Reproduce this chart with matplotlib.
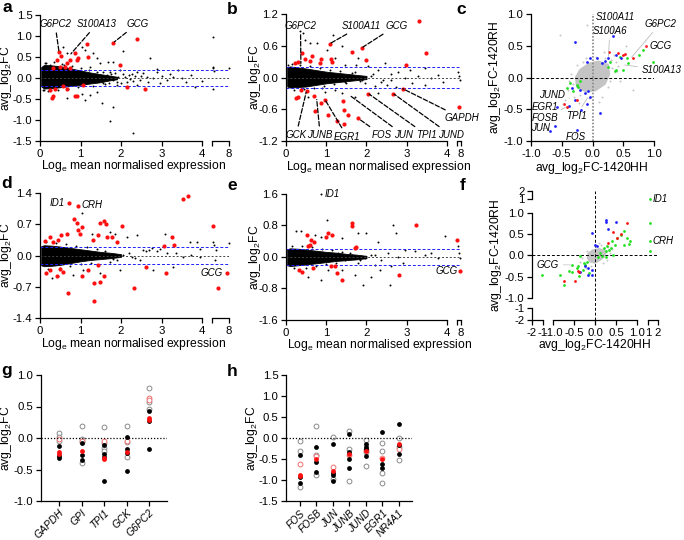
import numpy as np
import matplotlib.pyplot as plt

plt.rcParams['font.family'] = ['Liberation Sans', 'DejaVu Sans']
plt.rcParams['mathtext.fontset'] = 'custom'
plt.rcParams['mathtext.rm'] = 'Liberation Sans'
plt.rcParams['mathtext.it'] = 'Liberation Sans:italic'
plt.rcParams['axes.unicode_minus'] = False
plt.rcParams['font.size'] = 8.2
plt.rcParams['axes.labelsize'] = 8.7
plt.rcParams['axes.linewidth'] = 0.9
plt.rcParams['xtick.major.width'] = 0.9
plt.rcParams['ytick.major.width'] = 0.9
plt.rcParams['xtick.major.size'] = 3.5
plt.rcParams['ytick.major.size'] = 3.5
plt.rcParams['xtick.major.pad'] = 2
plt.rcParams['ytick.major.pad'] = 2

W, H = 684, 540
GENE_FS = 7.0

# ---------------- panel a ----------------
a_core_x = [0.03, 0.1, 0.3, 0.5, 0.75, 1.0, 1.25, 1.5, 1.7, 1.9]
a_core_hi = [0.26, 0.31, 0.3, 0.28, 0.23, 0.18, 0.13, 0.09, 0.06, 0.03]
a_core_lo = [-0.2, -0.25, -0.24, -0.22, -0.19, -0.16, -0.13, -0.1, -0.06, -0.03]
a_blk_x = [4.4, 4.5, 4.6, 4.45, 7.9, 4.5, 2.06, 1.81, 1.73, 2.30, 2.72, 1.52, 1.40, 1.48, 1.23,
           1.69, 1.98, 1.89, 2.14, 2.26, 2.39, 2.47, 2.63, 2.80, 2.88, 3.0, 3.13, 3.29, 3.41,
           3.5, 3.74, 3.99, 3.83, 1.81, 1.65, 1.56, 1.73, 1.93, 2.1, 2.22, 2.35, 2.55, 2.67,
           2.96, 3.21, 1.32, 1.11, 1.03, 0.66, 0.58, 0.25, 0.12, 1.23, 1.40, 1.11, 0.08, 0.66,
           1.81, 1.03, 2.0, 2.4, 2.9, 3.6,
           0.15, 0.35, 0.55, 0.8, 1.0, 1.2, 1.4, 0.2, 0.45, 0.7, 0.95, 1.3, 1.6, 1.75, 1.9,
           2.2, 0.1, 0.6, 1.55, 1.7, 2.05, 2.3, 2.5, 1.85]
a_blk_y = [0.98, 0.23, 0.17, 0.27, 0.23, -0.27, 0.65, -0.68, -1.02, -1.30, 0.47, -0.60, 0.47,
           0.35, 0.27, 0.39, 0.19, -0.17, -0.09, 0.10, 0.15, -0.05, 0.03, -0.01, 0.15, 0.05,
           -0.05, 0.03, 0.19, -0.01, 0.07, -0.06, -0.21, -0.05, 0.07, -0.11, 0.15, 0.03, 0.02,
           -0.03, 0.05, 0.11, -0.09, -0.11, 0.10, 0.59, 0.67, 0.75, 0.59, 0.75, 0.31, 0.35,
           -0.40, -0.33, -0.52, -0.29, -0.48, 0.37, -0.37, -0.12, -0.16, 0.22, -0.1,
           0.36, 0.38, 0.34, 0.29, 0.24, 0.19, 0.15, -0.3, -0.29, -0.26, -0.22, -0.18, -0.14,
           0.1, -0.09, 0.07, -0.29, 0.32, 0.14, -0.13, 0.09, -0.08, 0.04, 0.12]
a_red_x = [1.17, 1.81, 2.40, 0.86, 0.93, 0.91, 1.19, 0.74, 0.66, 0.62, 0.49, 0.33, 1.98, 2.60,
           2.14, 0.33, 0.29, 0.37, 0.66, 0.86, 0.92, 0.25, 1.07, 0.58, 0.41, 0.74, 0.47, 0.53]
a_red_y = [0.80, 0.84, 0.94, 0.59, 0.47, 0.43, 0.51, 0.44, 0.35, 0.27, 0.27, 0.23, 0.30, -0.27,
           -0.21, -0.44, -0.48, -0.27, -0.27, -0.43, -0.44, -0.29, -0.17, -0.2, 0.44, 0.23,
           0.62, 0.52]
a_labels = ['G6PC2', 'S100A13', 'GCG']
a_lab_xy = [(0.37, 1.29), (1.41, 1.29), (2.40, 1.29)]
a_lab_pt = [(0.47, 0.62), (0.74, 0.55), (1.81, 0.84)]

# ---------------- panel b ----------------
b_core_x = [0.03, 0.1, 0.3, 0.5, 0.75, 1.0, 1.25, 1.5, 1.75, 2.0]
b_core_hi = [0.19, 0.21, 0.19, 0.17, 0.14, 0.11, 0.09, 0.07, 0.05, 0.03]
b_core_lo = [-0.17, -0.19, -0.18, -0.17, -0.14, -0.11, -0.09, -0.07, -0.05, -0.03]
b_blk_x = [0.35, 0.43, 1.17, 0.6, 0.76, 1.01, 1.38, 1.79, 2.04, 2.29, 2.45, 2.79, 3.07, 3.45,
           3.61, 3.9, 3.78, 3.28, 2.95, 2.62, 2.37, 2.12, 1.88, 1.63, 1.46, 1.34, 1.71, 1.96,
           2.21, 2.5, 2.74, 3.12, 3.45, 1.21, 1.38, 1.71, 0.97, 0.55, 6.0, 5.0, 7.0, 0.47,
           1.46, 1.75, 1.21, 2.29, 2.62,
           0.15, 0.35, 0.6, 0.85, 1.1, 1.35, 0.2, 0.45, 0.7, 0.95, 1.2, 1.5, 1.65, 1.85, 2.15,
           2.4, 0.05, 0.9]
b_blk_y = [0.87, 0.84, 0.81, 0.65, 0.65, 0.52, 0.59, 0.37, 0.21, 0.15, 0.27, 0.11, 0.15, 0.18,
           -0.01, -0.08, 0.05, 0.02, -0.01, -0.04, -0.08, 0.03, -0.04, 0.01, -0.08, 0.05, 0.11,
           -0.11, -0.17, -0.14, -0.18, -0.11, -0.14, -0.23, -0.3, -0.36, -0.27, -0.36, 0.02,
           0.11, -0.04, 0.71, 0.24, 0.24, 0.37, -0.3, 0.07,
           0.25, 0.24, 0.21, 0.18, 0.15, 0.12, -0.23, -0.22, -0.19, -0.16, -0.13, -0.1, 0.09,
           -0.07, 0.06, -0.05, 0.24, -0.19]
b_red_x = [3.31, 1.88, 1.65, 1.09, 3.49, 2.0, 2.99, 0.39, 0.22, 0.31, 0.47, 0.60, 0.64, 0.87,
           0.84, 1.13, 1.15, 0.37, 0.26, 0.31, 0.51, 0.70, 0.97, 0.88, 0.72, 1.05, 1.27, 1.42,
           1.45, 1.55, 1.44, 1.79, 2.04, 2.66, 2.91, 6.5]
b_red_y = [1.06, 0.56, 0.49, 0.64, 0.46, 0.33, 0.24, 0.46, 0.27, 0.30, 0.35, 0.32, 0.40, 0.35,
           0.27, 0.35, 0.30, -0.23, -0.39, -0.36, -0.25, -0.35, -0.42, -0.49, -0.64, -0.71,
           -0.83, -0.45, -0.61, -0.71, -0.88, -0.77, -0.31, -0.31, -0.22, -0.55]
b_labels = ['G6PC2', 'S100A11', 'GCG', 'GCK', 'JUNB', 'EGR1', 'FOS', 'JUN', 'TPI1', 'JUND', 'GAPDH']
b_lab_xy = [(0.36, 0.98), (1.88, 0.98), (2.74, 0.98), (0.25, -1.09), (0.85, -1.09),
            (1.52, -1.12), (2.38, -1.09), (2.93, -1.09), (3.5, -1.09), (0.943, -1.09),
            (1.006, -0.77)]
b_lab_pt = [(0.37, 0.24), (1.09, 0.64), (1.88, 0.56), (0.51, -0.25), (0.76, -0.39),
            (0.97, -0.42), (1.79, -0.77), (1.57, -0.33), (2.04, -0.3), (2.66, -0.3),
            (2.87, -0.2)]
# the last two labels sit right of the axis, x given as axes fraction
b_lab_frac = [False] * 9 + [True, True]

# ---------------- panel c ----------------
c_core_x = [0.25, 0.1, -0.05, -0.2, -0.27, -0.25, -0.1, 0.05, 0.2, 0.27]
c_core_y = [0.2, 0.25, 0.22, 0.12, 0.0, -0.15, -0.22, -0.2, -0.1, 0.05]
c_grey_x = [-0.53, -0.09, 0.66, 0.35, -0.35, 0.3, 0.4, -0.4, -0.3, 0.2, -0.2, 0.45, -0.45,
            0.15, 0.25, -0.15, 0.05, -0.05, 0.32, -0.32, 0.38, 0.1, -0.25, 0.28, -0.1, 0.18,
            -0.38, 0.42, 0.22, -0.22, 0.55, -0.6]
c_grey_y = [0.67, 0.83, -0.19, 0.35, 0.05, 0.28, 0.1, -0.2, -0.3, 0.3, -0.28, -0.05, -0.35,
            -0.3, -0.15, 0.25, 0.33, -0.32, 0.15, -0.1, 0.25, -0.38, 0.2, -0.05, 0.3, 0.4,
            -0.05, 0.18, 0.1, -0.4, 0.5, -0.3]
c_blue_x = [-0.28, 0.34, -0.04, -0.09, 0.08, 0.15, 0.2, 0.26, 0.39, 0.47, -0.69, -0.61, -0.26,
            -0.58, -0.39, -0.2, -0.12, -0.07, -0.04, -0.18, -0.28, 0.12, -0.09, -0.34]
c_blue_y = [0.56, 0.65, 0.31, 0.25, 0.31, 0.23, 0.26, 0.31, 0.36, 0.31, -0.85, -0.77, -0.83,
            -0.46, -0.45, -0.19, -0.25, -0.22, -0.3, -0.51, -0.35, -0.56, -0.41, -0.17]
c_green_x = [0.82, 0.98, 0.75, 0.58, 0.50, 0.39, 0.26, 0.28, 0.45, 0.56, 0.37, -0.2, -0.25,
             -0.41, -0.23, -0.31, -0.37]
c_green_y = [0.44, 0.24, 0.36, 0.23, 0.12, 0.12, 0.17, 0.24, 0.33, 0.31, 0.11, -0.06, -0.12,
             -0.17, -0.15, -0.22, -0.09]
c_red_x = [0.87, 0.53, 0.42, 0.27, 0.50, 0.66, -0.47, -0.26, -0.42]
c_red_y = [0.49, 0.37, 0.38, 0.40, 0.35, 0.31, -0.42, -0.35, -0.46]
c_labels = ['S100A11', 'S100A6', 'G6PC2', 'GCG', 'S100A13', 'JUND', 'EGR1', 'FOSB', 'TPI1',
            'JUN', 'FOS']
c_lab_xy = [(0.37, 0.96), (0.28, 0.73), (1.1, 0.85), (1.1, 0.49), (1.12, 0.12),
            (-0.66, -0.28), (-0.77, -0.47), (-0.77, -0.64), (-0.26, -0.6), (-0.84, -0.8),
            (-0.28, -0.93)]
c_lab_pt = [(0.32, 0.66), (0.26, 0.31), (0.62, 0.3), (0.87, 0.49), (0.5, 0.2),
            (-0.35, -0.33), (-0.47, -0.42), (-0.42, -0.46), (-0.07, -0.3), (-0.69, -0.8),
            (-0.26, -0.83)]

# ---------------- panel d ----------------
d_core_x = [0.03, 0.1, 0.3, 0.5, 0.75, 1.0, 1.25, 1.5, 1.75, 2.0]
d_core_hi = [0.21, 0.23, 0.22, 0.2, 0.17, 0.14, 0.11, 0.08, 0.06, 0.03]
d_core_lo = [-0.22, -0.24, -0.23, -0.21, -0.17, -0.13, -0.1, -0.08, -0.06, -0.03]
d_blk_x = [1.03, 1.73, 1.85, 2.39, 3.09, 3.7, 3.87, 4.4, 4.6, 5.0, 7.9, 2.14, 1.28, 2.55, 2.76,
           2.88, 2.96, 3.13, 3.37, 3.54, 3.74, 3.95, 2.47, 2.26, 2.06, 1.89, 1.73, 1.56, 1.40,
           2.8, 3.29, 1.98, 1.48, 1.07, 0.82, 0.29, 0.45, 3.95, 4.8, 2.62, 2.7,
           0.15, 0.4, 0.65, 0.9, 1.15, 1.4, 0.2, 0.5, 0.75, 1.0, 1.25, 1.6, 1.8, 2.2, 2.35]
d_blk_y = [0.95, 0.53, 0.49, 0.46, 0.49, 0.31, 0.31, 0.31, 0.23, 0.12, 0.29, 0.42, 0.49, 0.12,
           0.16, 0.09, 0.14, 0.05, 0.05, -0.03, 0.01, -0.04, -0.1, -0.03, 0.01, -0.1, -0.14,
           -0.04, 0.05, -0.32, -0.25, -0.32, -0.40, -0.32, -0.43, -0.51, -0.47, 0.14, -0.1,
           0.1, 0.13,
           0.3, 0.29, 0.26, 0.22, 0.18, 0.14, -0.3, -0.28, -0.24, -0.2, -0.16, 0.1, -0.08,
           0.06, -0.05]
d_red_x = [0.72, 0.93, 3.52, 3.66, 4.5, 5.5, 7.6, 0.85, 0.91, 1.03, 0.99, 0.93, 1.48, 1.59,
           1.63, 2.02, 1.44, 1.65, 1.77, 1.91, 1.32, 3.05, 3.25, 3.32, 0.66, 0.53, 0.45, 0.25,
           0.12, 0.33, 0.70, 1.34, 1.34, 1.47, 1.59, 2.33, 3.10, 2.61, 1.19, 1.44, 0.25, 0.41,
           0.58, 1.03, 0.16, 0.49]
d_red_y = [1.18, 1.12, 1.27, 1.33, 0.66, -0.73, -0.4, 0.81, 0.72, 0.63, 0.49, 0.58, 0.73, 0.78,
           0.70, 0.66, 0.46, 0.42, 0.42, 0.31, 0.35, 0.22, 0.42, 0.23, 0.49, 0.46, 0.35, 0.42,
           0.32, 0.31, -0.84, -0.62, -1.03, -0.6, -0.47, -0.73, -0.40, -0.25, -0.32, -0.21,
           -0.32, -0.47, -0.36, -0.47, -0.4, -0.31]

# ---------------- panel e ----------------
e_core_x = [0.03, 0.1, 0.3, 0.5, 0.75, 1.0, 1.25, 1.5, 1.75, 2.0]
e_core_hi = [0.2, 0.22, 0.21, 0.19, 0.16, 0.13, 0.11, 0.08, 0.06, 0.03]
e_core_lo = [-0.21, -0.23, -0.21, -0.19, -0.16, -0.13, -0.1, -0.08, -0.06, -0.03]
e_blk_x = [0.88, 1.01, 0.25, 0.37, 1.79, 2.0, 2.66, 2.74, 3.94, 1.38, 0.88, 0.72, 2.29, 2.95,
           3.2, 3.45, 3.61, 3.78, 2.79, 2.54, 2.37, 2.12, 1.96, 1.79, 1.63, 1.46, 1.3, 2.21,
           2.62, 2.91, 0.88, 1.92, 2.58, 2.12, 2.33, 1.71, 0.55, 1.38, 1.05, 5.0, 6.0, 7.0,
           0.15, 0.4, 0.65, 0.9, 1.15, 1.4, 0.2, 0.5, 0.75, 1.0, 1.25, 1.6, 1.85, 2.2]
e_blk_y = [1.6, 0.95, 0.65, 0.67, 0.61, 0.61, 0.82, 0.61, 0.54, 0.48, 0.52, 0.56, 0.39, 0.18,
           0.14, 0.06, 0.1, -0.03, 0.0, 0.1, -0.07, 0.06, -0.03, -0.16, 0.06, -0.07, 0.1, -0.2,
           -0.24, -0.16, -0.58, -0.71, -0.71, -0.5, -0.33, -0.45, -0.5, -0.33, -0.33, 0.27,
           0.1, -0.03,
           0.29, 0.28, 0.25, 0.21, 0.17, 0.13, -0.29, -0.27, -0.23, -0.19, -0.15, 0.09, -0.07,
           0.05]
e_red_x = [1.63, 1.63, 3.22, 1.05, 1.15, 1.0, 0.51, 0.62, 0.7, 0.6, 0.55, 1.75, 1.71, 4.6,
           0.32, 0.39, 0.66, 1.12, 1.21, 1.26, 1.38, 2.80, 7.5]
e_red_y = [0.86, 0.78, 0.82, 0.62, 0.56, 0.52, 0.56, 0.44, 0.38, 0.31, 0.27, 0.25, 0.24, 0.44,
           -0.33, -0.37, -0.28, -0.24, -0.24, -0.41, -0.58, -0.45, -0.35]

# ---------------- panel f ----------------
f_core_x = [0.22, 0.1, -0.05, -0.15, -0.17, -0.12, 0.0, 0.12, 0.22, 0.25]
f_core_y = [0.12, 0.15, 0.12, 0.05, -0.06, -0.14, -0.17, -0.1, -0.02, 0.06]
f_grey_x = [-0.25, -0.2, 0.3, 0.28, -0.3, 0.15, -0.1, 0.35, -0.35, 0.05, 0.2, -0.22, 0.4, 0.1]
f_grey_y = [-0.2, 0.1, 0.2, -0.1, -0.05, 0.25, -0.25, 0.05, -0.15, 0.22, -0.18, -0.3, 0.15, 0.3]
f_green_x = [1.2, 1.2, 1.25, 1.18, -1.15, -0.84, -0.73, -0.63, -0.55, -0.44, -0.41, -0.35,
             -0.27, -0.23, -0.19, -0.29, -0.15, -0.39, -0.55, 0.13, 0.21, 0.29, 0.27, 0.33,
             0.37, 0.48, 0.41, 0.52, 0.68, 0.75, 0.80, 0.84, 0.70, 0.62, 0.44, 0.25, 0.17, 0.06]
f_green_y = [1.05, 0.76, 0.1, 0.33, -0.45, -0.45, -0.69, -0.36, -0.39, -0.29, -0.25, -0.02,
             -0.18, -0.22, -0.15, -0.33, -0.41, -0.49, -0.22, 0.06, 0.18, 0.22, 0.1, 0.14, 0.18,
             0.25, 0.33, 0.41, 0.57, 0.41, 0.27, 0.33, 0.25, 0.49, 0.02, -0.04, -0.02, -0.04]
f_blue_x = [0.27, 0.27, 0.51, 0.3, -0.07, 0.01, 0.05, -0.23, -0.17, -0.07, -0.07, -0.35, -0.17]
f_blue_y = [0.84, 0.79, 0.79, 0.62, 0.53, 0.24, 0.22, -0.25, -0.45, -0.45, -0.33, -0.39, -0.29]
f_red_x = [0.75, 0.43, 0.52, 0.62, 0.3, -0.75, -0.47, -0.41, -0.38]
f_red_y = [0.77, 0.55, 0.4, 0.51, 0.29, -0.61, -0.61, -0.36, -0.39]

# ---------------- panels g, h ----------------
g_genes = ['GAPDH', 'GPI', 'TPI1', 'GCK', 'G6PC2']
g_black = [[-0.12, -0.28, -0.31], [-0.08, -0.27, -0.35], [-0.11, -0.26, -0.30, -0.68],
           [0.02, -0.17, -0.24, -0.53], [0.43, 0.27, -0.17]]
g_red = [[-0.23, -0.26], [-0.21], [-0.32, -0.33], [-0.23], [0.31, 0.29]]
g_ogrey = [[0.08, 0.02, -0.04], [0.19, -0.02, -0.07, -0.40], [0.17, -0.08, -0.16, -0.21],
           [0.19, -0.07, -0.30], [0.80, 0.57, 0.46]]
g_ored = [[-0.02], [-0.05], [-0.05], [-0.05], [0.64, 0.61]]

h_genes = ['FOS', 'FOSB', 'JUN', 'JUNB', 'JUND', 'EGR1', 'NR4A1']
h_black = [[-0.40, -0.94, -1.06], [-0.22, -0.58, -0.80], [-0.14, -0.84, -0.88, -1.02],
           [0.10, -0.33, -0.50, -0.71], [-0.15, -0.21, -0.26, -0.42], [0.15, -0.62, -0.72],
           [0.33, -0.17, -0.39]]
h_red = [[-0.88, -0.90], [-0.50], [-0.79], [-0.39], [-0.31], [-0.50], [-0.14]]
h_ogrey = [[-0.07, -0.31, -1.17], [0.29, -0.40, -0.87], [0.02, -0.98], [0.17, -0.25, -1.02],
           [-0.05, -0.33, -0.66], [-0.11, -0.31, -0.84, -1.08], [0.01, -0.21, -0.52]]
h_ored = [[-0.62], [-0.42], [-0.68], [-0.40], [-0.28], [-0.48], [-0.27]]

RED = '#ff1010'
GREEN = '#22e022'
BLUE = '#2020ff'
GREY = '#c4c4c4'

fig = plt.figure(figsize=(W / 100, H / 100), dpi=100)


def px_rect(x0, y0, x1, y1):
    return [x0 / W, 1 - y1 / H, (x1 - x0) / W, (y1 - y0) / H]


def piecewise(xp, fp):
    return (lambda v: np.interp(v, xp, fp), lambda v: np.interp(v, fp, xp))


def place_labels(ax, box, ylab_cx, xlab_cx, xlab_cy):
    # label centres given in figure pixels
    x0, y0, x1, y1 = box
    ax.yaxis.set_label_coords((ylab_cx + 6 - x0) / (x1 - x0), 0.5)
    ax.xaxis.set_label_coords((xlab_cx - x0) / (x1 - x0), (y1 - (xlab_cy - 6)) / (y1 - y0))


def ma_panel(box, seg, ylim, yticks, ytl, core, blk, red, ylab_cx, xlab_cx, xlab_cy):
    x0, y0, x1, y1 = box
    xa, x4, xb, x8 = seg
    s1 = (x4 - xa) / 4
    s2 = (x8 - xb) / 3.8
    ax = fig.add_axes(px_rect(x0, y0, x1, y1))
    ax.set_xscale('function', functions=piecewise(
        [-100, 0, 4, 4.2, 8, 100], [xa - 100 * s1, xa, x4, xb, x8, x8 + 92 * s2]))
    ax.set_xlim(0, 8)
    ax.set_ylim(*ylim)
    for sp in ['top', 'right', 'bottom']:
        ax.spines[sp].set_visible(False)
    tr = ax.get_xaxis_transform()
    ax.plot([0, 4], [0, 0], color='k', lw=0.9, transform=tr, clip_on=False)
    ax.plot([4.2, 8], [0, 0], color='k', lw=0.9, transform=tr, clip_on=False)
    ax.set_xticks([0, 1, 2, 3, 4, 4.2, 8])
    ax.set_xticklabels(['0', '1', '2', '3', '4', '', '8'])
    ax.set_yticks(yticks)
    ax.set_yticklabels(ytl)
    ax.axhline(0.2, color=BLUE, lw=0.7, ls=(0, (3, 2)))
    ax.axhline(-0.2, color=BLUE, lw=0.7, ls=(0, (3, 2)))
    ax.axhline(0, color='#444444', lw=0.7, ls=(0, (2, 2)))
    ax.fill_between(core[0], core[2], core[1], color='k', lw=0.6, edgecolor='k')
    ax.scatter(blk[0], blk[1], s=2, color='k', lw=0, clip_on=False)
    ax.scatter(red[0], red[1], s=9, color=RED, lw=0, clip_on=False, zorder=3)
    ax.set_ylabel('avg_log$_2$FC')
    ax.set_xlabel('Log$_\\mathrm{e}$ mean normalised expression')
    place_labels(ax, box, ylab_cx, xlab_cx, xlab_cy)
    return ax


def leader(ax, text, xy, pt, color='k', ls='--', lw=0.9, frac=False, **kw):
    tc = ('axes fraction', 'data') if frac else 'data'
    ax.annotate(text, xy=pt, xytext=xy, textcoords=tc, ha=kw.pop('ha', 'center'),
                va='center', fontstyle='italic', fontsize=GENE_FS, annotation_clip=False,
                arrowprops=dict(arrowstyle='-', color=color, ls=ls, lw=lw,
                                shrinkA=1, shrinkB=1), **kw)


def tag(ax, text, pt, dx, ha):
    ax.annotate(text, xy=pt, xytext=(dx, 0), textcoords='offset points', ha=ha,
                va='center', fontstyle='italic', fontsize=GENE_FS, annotation_clip=False)


# a
ax_a = ma_panel((40, 15, 229, 141), (40, 202, 212, 229), (-1.5, 1.5),
                [-1.5, -1.0, -0.5, 0, 0.5, 1.0, 1.5],
                ['-1.5', '-1.0', '-0.5', '0.0', '0.5', '1.0', '1.5'],
                (a_core_x, a_core_hi, a_core_lo), (a_blk_x, a_blk_y), (a_red_x, a_red_y),
                8.5, 134, 164)
for t, xy, pt in zip(a_labels, a_lab_xy, a_lab_pt):
    leader(ax_a, t, xy, pt)

# b
ax_b = ma_panel((286, 14, 461, 141), (286, 447, 457, 461), (-1.2, 1.2),
                [-1.2, -0.6, 0, 0.6, 1.2], ['-1.2', '-0.6', '0.0', '0.6', '1.2'],
                (b_core_x, b_core_hi, b_core_lo), (b_blk_x, b_blk_y), (b_red_x, b_red_y),
                257, 379, 165)
for t, xy, pt, fr in zip(b_labels, b_lab_xy, b_lab_pt, b_lab_frac):
    leader(ax_b, t, xy, pt, frac=fr)

# d
ax_d = ma_panel((40, 193, 229, 318), (40, 202, 212, 229), (-1.4, 1.4),
                [-1.4, -0.7, 0, 0.7, 1.4], ['-1.4', '-0.7', '0.0', '0.7', '1.4'],
                (d_core_x, d_core_hi, d_core_lo), (d_blk_x, d_blk_y), (d_red_x, d_red_y),
                8.5, 134, 342)
tag(ax_d, 'ID1', (0.72, 1.18), -3, 'right')
tag(ax_d, 'CRH', (0.93, 1.12), 3, 'left')
tag(ax_d, 'GCG', (7.6, -0.4), -3, 'right')

# e
ax_e = ma_panel((286, 194, 461, 320), (286, 447, 457, 461), (-1.6, 1.6),
                [-1.6, -0.8, 0, 0.8, 1.6], ['-1.6', '-0.8', '0.0', '0.8', '1.6'],
                (e_core_x, e_core_hi, e_core_lo), (e_blk_x, e_blk_y), (e_red_x, e_red_y),
                257, 380, 343)
tag(ax_e, 'ID1', (0.88, 1.6), 2, 'left')
tag(ax_e, 'GCG', (7.5, -0.35), -2, 'right')

# c
box_c = (531, 14, 654, 141)
ax_c = fig.add_axes(px_rect(*box_c))
ax_c.set_xlim(-1, 1)
ax_c.set_ylim(-1, 1)
for sp in ['top', 'right']:
    ax_c.spines[sp].set_visible(False)
ticks = [-1.0, -0.5, 0.0, 0.5, 1.0]
ax_c.set_xticks(ticks)
ax_c.set_yticks(ticks)
ax_c.set_xticklabels(['-1.0', '-0.5', '0.0', '0.5', '1.0'])
ax_c.set_yticklabels(['-1.0', '-0.5', '0.0', '0.5', '1.0'])
ax_c.axhline(0, color='k', lw=0.7, ls=(0, (3, 2)))
ax_c.axvline(0, color='#888888', lw=1.2, ls=(0, (1, 1)))
ax_c.scatter(c_grey_x, c_grey_y, s=2, color=GREY, lw=0)
ax_c.fill(c_core_x, c_core_y, color=GREY, lw=1.5, edgecolor=GREY)
ax_c.scatter(c_green_x, c_green_y, s=4, color=GREEN, lw=0, zorder=3)
ax_c.scatter(c_blue_x, c_blue_y, s=4, color=BLUE, lw=0, zorder=3)
ax_c.scatter(c_red_x, c_red_y, s=4, color=RED, lw=0, zorder=3)
for t, xy, pt in zip(c_labels, c_lab_xy, c_lab_pt):
    leader(ax_c, t, xy, pt, color='#b0b0b0', ls='-', lw=0.5)
ax_c.set_xlabel('avg_log$_2$FC-1420HH')
ax_c.set_ylabel('avg_log$_2$FC-1420RH')
place_labels(ax_c, box_c, 497, 592, 166)

# f
box_f = (532, 191, 658, 320)
ax_f = fig.add_axes(px_rect(*box_f))
brk = [-50, -2, -1.02, -1, 1, 1.02, 2, 50]
ax_f.set_xscale('function', functions=piecewise(
    brk, [532 - 48 * 11.2, 532, 543, 553, 637, 648, 658, 658 + 48 * 10.2]))
ax_f.set_yscale('function', functions=piecewise(
    brk, [-320 - 48 * 12.2, -320, -308, -298, -213, -199, -191, -191 + 48 * 8.2]))
ax_f.set_xlim(-2, 2)
ax_f.set_ylim(-2, 2)
for sp in ax_f.spines.values():
    sp.set_visible(False)
fticks = [-2, -1.02, -1, -0.5, 0, 0.5, 1, 1.02, 2]
ftl = ['-2', '-1', '-1.0', '-0.5', '0.0', '0.5', '1.0', '1', '2']
ax_f.set_xticks(fticks)
ax_f.set_xticklabels(ftl)
ax_f.set_yticks(fticks)
ax_f.set_yticklabels(ftl)
trx = ax_f.get_xaxis_transform()
tryy = ax_f.get_yaxis_transform()
for lo, hi in [(-2, -1.02), (-1, 1), (1.02, 2)]:
    ax_f.plot([lo, hi], [0, 0], color='k', lw=0.9, transform=trx, clip_on=False)
    ax_f.plot([0, 0], [lo, hi], color='k', lw=0.9, transform=tryy, clip_on=False)
ax_f.axhline(0, color='k', lw=0.7, ls=(0, (3, 2)))
ax_f.axvline(0, color='k', lw=0.7, ls=(0, (3, 2)))
ax_f.scatter(f_grey_x, f_grey_y, s=2, color=GREY, lw=0)
ax_f.fill(f_core_x, f_core_y, color=GREY, lw=1.5, edgecolor=GREY)
ax_f.scatter(f_green_x, f_green_y, s=4, color=GREEN, lw=0, zorder=3, clip_on=False)
ax_f.scatter(f_blue_x, f_blue_y, s=4, color=BLUE, lw=0, zorder=3)
ax_f.scatter(f_red_x, f_red_y, s=4, color=RED, lw=0, zorder=3)
tag(ax_f, 'ID1', (1.2, 1.05), 2, 'left')
tag(ax_f, 'CRH', (1.18, 0.33), 2, 'left')
leader(ax_f, 'GCG', (-1.01, -0.22), (-0.55, -0.22), color='#c0c0c0', ls='-', lw=0.5)
ax_f.set_xlabel('avg_log$_2$FC-1420HH')
ax_f.set_ylabel('avg_log$_2$FC-1420RH')
place_labels(ax_f, box_f, 498, 595, 343)


def strip_panel(box, genes, black, red, ogrey, ored, ylim, yticks, ytl, xlim, ylab_cx):
    ax = fig.add_axes(px_rect(*box))
    for i in range(len(genes)):
        pos = i + 1
        ax.scatter([pos] * len(ogrey[i]), ogrey[i], s=12, facecolor='white',
                   edgecolor='#8a8a8a', lw=0.7, zorder=2)
        ax.scatter([pos] * len(ored[i]), ored[i], s=12, facecolor='white',
                   edgecolor='#f07070', lw=0.7, zorder=2)
        ax.scatter([pos] * len(black[i]), black[i], s=12, color='k', lw=0, zorder=3)
        ax.scatter([pos] * len(red[i]), red[i], s=12, color=RED, lw=0, zorder=4)
    ax.set_xlim(*xlim)
    ax.set_ylim(*ylim)
    for sp in ['top', 'right']:
        ax.spines[sp].set_visible(False)
    ax.axhline(0, color='k', lw=0.9, ls=(0, (1, 1.5)))
    ax.set_xticks(range(1, len(genes) + 1))
    ax.set_xticklabels(genes, rotation=45, ha='right', rotation_mode='anchor',
                       fontstyle='italic', fontsize=7.4)
    ax.tick_params(axis='x', pad=1.5)
    ax.set_yticks(yticks)
    ax.set_yticklabels(ytl)
    ax.set_ylabel('avg_log$_2$FC')
    x0, y0, x1, y1 = box
    ax.yaxis.set_label_coords((ylab_cx + 6 - x0) / (x1 - x0), 0.5)
    return ax


strip_panel((41, 375, 167, 501), g_genes, g_black, g_red, g_ogrey, g_ored, (-1, 1),
            [-1.0, -0.5, 0, 0.5, 1.0], ['-1.0', '-0.5', '0.0', '0.5', '1.0'], (0.2, 5.8), 8.5)
strip_panel((286, 375, 412, 501), h_genes, h_black, h_red, h_ogrey, h_ored, (-1.5, 1.5),
            [-1.5, -1.0, -0.5, 0, 0.5, 1.0, 1.5],
            ['-1.5', '-1.0', '-0.5', '0.0', '0.5', '1.0', '1.5'], (0.15, 7.8), 254)

for lab, x, y in [('a', 7, 8), ('b', 232, 9), ('c', 461, 9), ('d', 7, 184),
                  ('e', 232, 186), ('f', 463, 186), ('g', 7, 371), ('h', 232, 371)]:
    fig.text(x / W, 1 - y / H, lab, fontsize=12.5, fontweight='bold', ha='center', va='center')

fig.savefig('out.png', dpi=100)
